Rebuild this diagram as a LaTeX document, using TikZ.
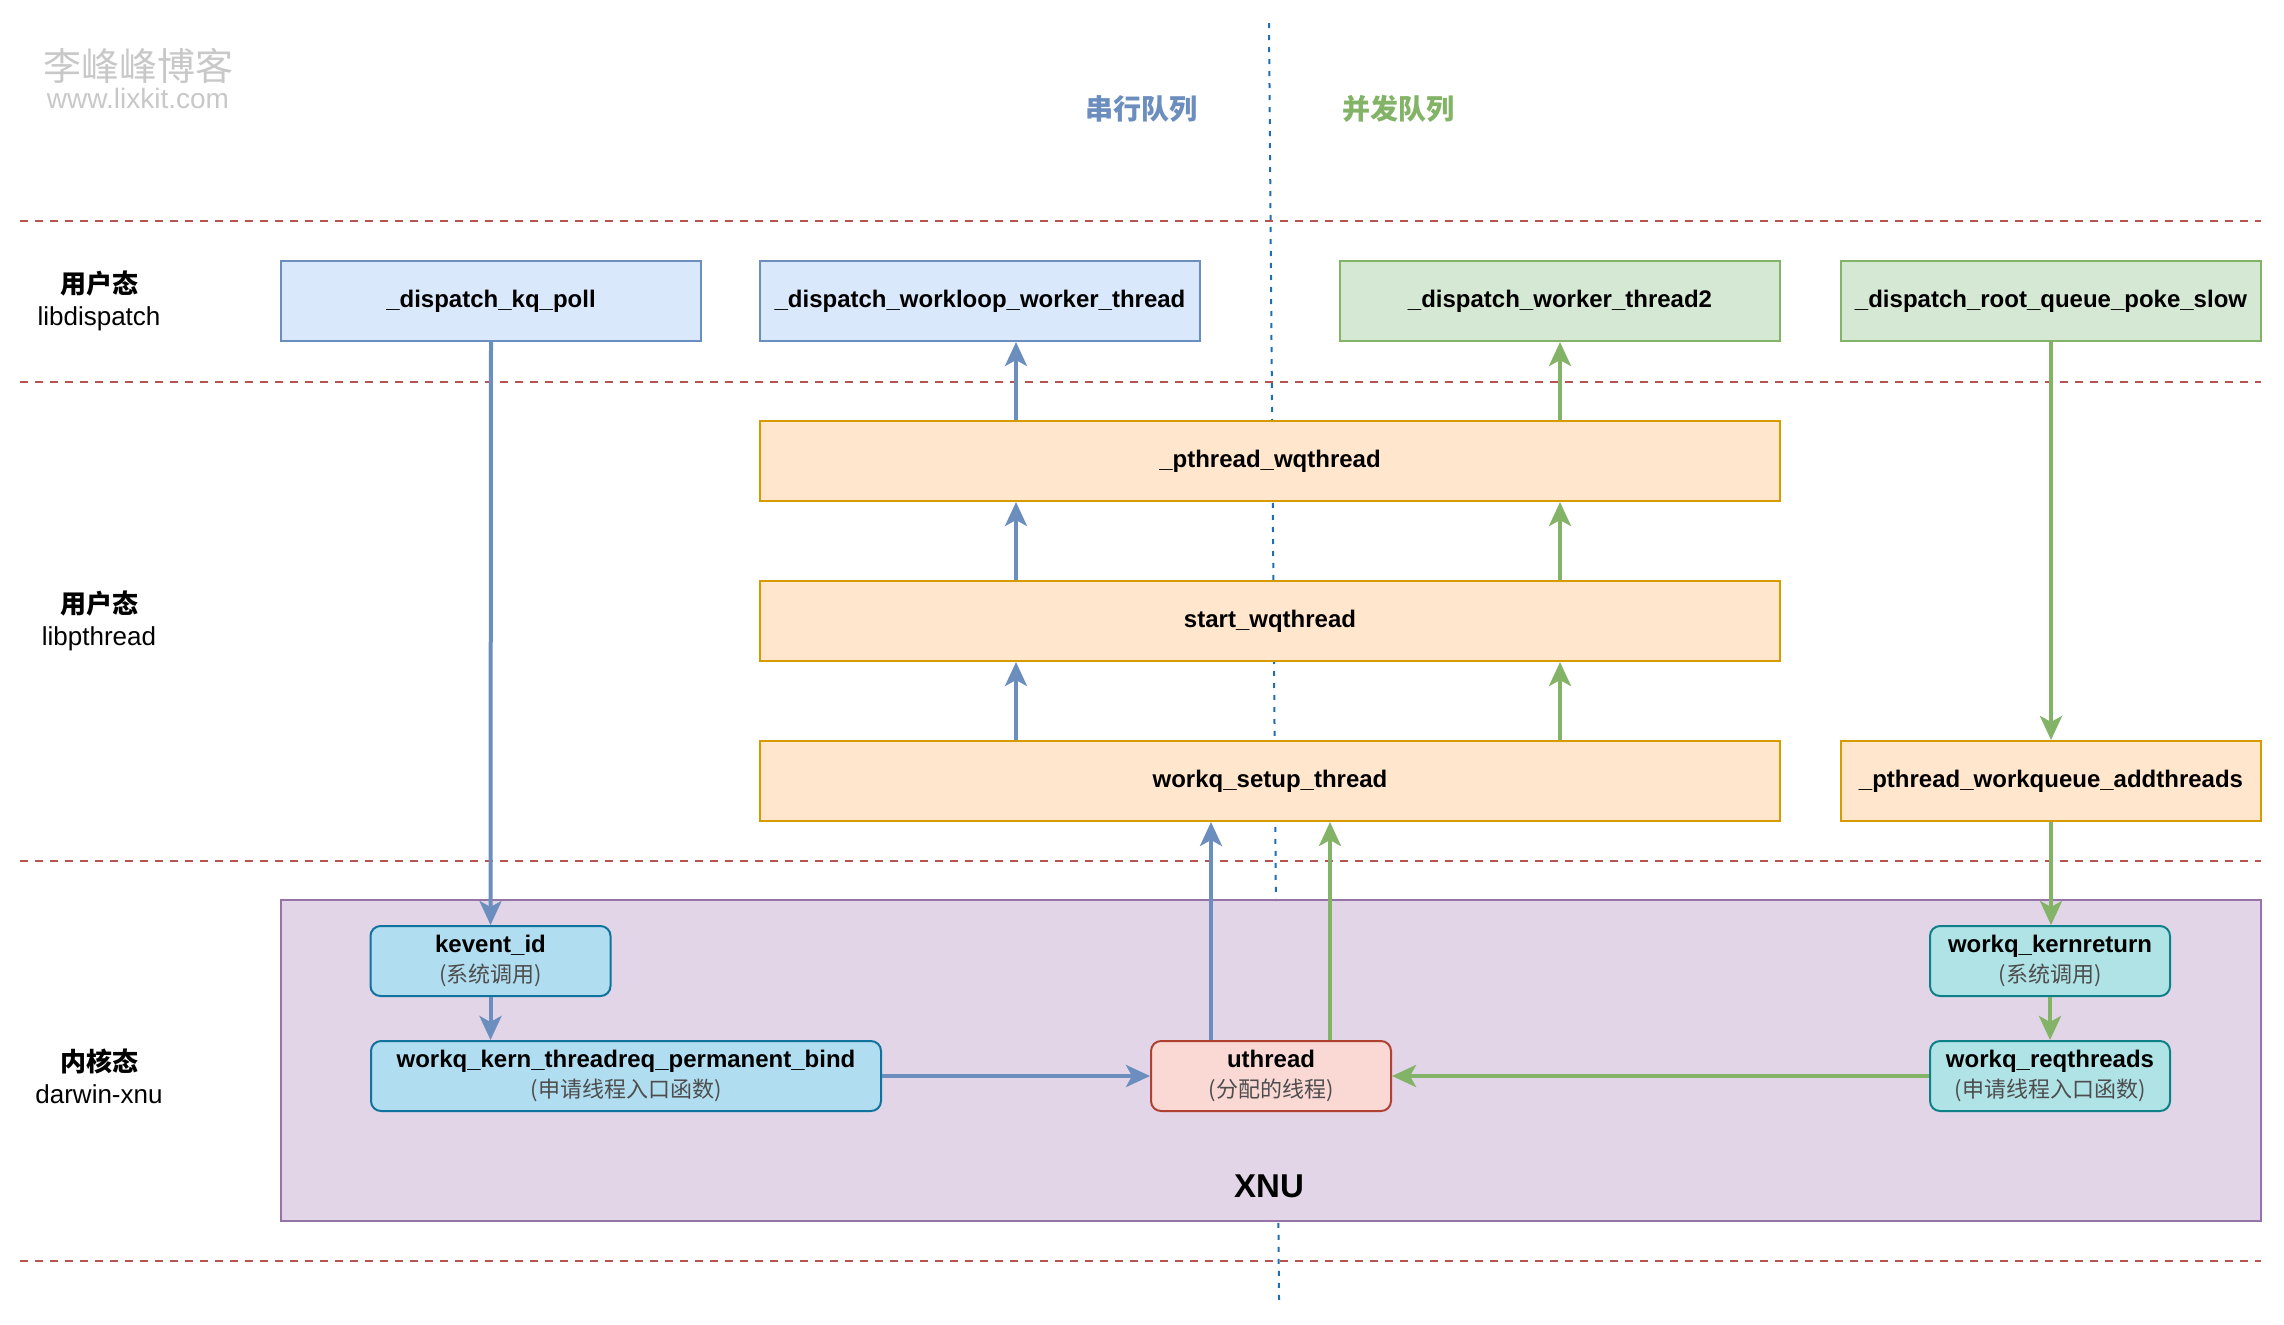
\documentclass[tikz,border=0pt]{standalone}
\usepackage{fontspec}
\setmainfont{Liberation Sans}
\newfontfamily\cjk{Noto Sans CJK SC}
\usetikzlibrary{arrows.meta}

\definecolor{serialfill}{HTML}{DAE8FC}
\definecolor{serialline}{HTML}{6C8EBF}
\definecolor{concfill}{HTML}{D5E8D4}
\definecolor{concline}{HTML}{82B366}
\definecolor{pthfill}{HTML}{FFE6CC}
\definecolor{pthline}{HTML}{D79B00}
\definecolor{xnufill}{HTML}{E1D5E7}
\definecolor{xnuline}{HTML}{9673A6}
\definecolor{sysfill}{HTML}{B1DDF0}
\definecolor{sysline}{HTML}{10739E}
\definecolor{tealfill}{HTML}{B0E3E6}
\definecolor{tealline}{HTML}{0E8088}
\definecolor{thrfill}{HTML}{FAD9D5}
\definecolor{thrline}{HTML}{AE4132}
\definecolor{laneline}{HTML}{B85450}
\definecolor{splitline}{HTML}{1F6FB0}
\definecolor{subtext}{HTML}{4D4D4D}
\definecolor{mark}{HTML}{C8C8C8}

\newcommand{\fn}[1]{\textbf{#1}}
\newcommand{\sub}[1]{{\cjk\fontsize{11}{15}\selectfont\color{subtext}#1}}

\begin{document}
\begin{tikzpicture}[x=0.5pt,y=-0.5pt,
  box/.style={draw, line width=1pt, inner sep=0pt, align=center,
    font=\fontsize{12}{15}\selectfont\bfseries},
  serialbox/.style={box, fill=serialfill, draw=serialline,
    minimum height=40pt},
  concbox/.style={box, fill=concfill, draw=concline, minimum height=40pt},
  pthbox/.style={box, fill=pthfill, draw=pthline, minimum height=40pt},
  kbox/.style={box, rounded corners=5pt, minimum height=35pt,
    minimum width=120pt, font=\fontsize{12}{15}\selectfont},
  sysbox/.style={kbox, fill=sysfill, draw=sysline},
  tealbox/.style={kbox, fill=tealfill, draw=tealline},
  thrbox/.style={kbox, fill=thrfill, draw=thrline},
  lane/.style={draw=laneline, line width=1pt, dash pattern=on 4pt off 3.5pt},
  lanelabel/.style={align=center, font=\fontsize{13}{16}\selectfont},
  flow/.style={line width=2pt,
    -{Stealth[length=12pt, width=11pt, inset=3pt]}},
  bflow/.style={flow, draw=serialline, fill=serialline},
  gflow/.style={flow, draw=concline, fill=concline},
]
\useasboundingbox (0,0) rectangle (2284,1324);

% watermark
\node[text=mark, font=\cjk\fontsize{19}{21}\selectfont] (wm1) at (138,66) {李峰峰博客};
\node[text=mark, font=\fontsize{14}{16}\selectfont] (wm2) at (138,98) {www.lixkit.com};

% split between serial and concurrent queues
\draw[draw=splitline, line width=1pt, dash pattern=on 2.5pt off 3.5pt]
  (1269,23) -- (1279,1300);

% layer separators
\foreach \y in {221,382,861,1261}
  \draw[lane] (20,\y) -- (2261,\y);

% column headings
\node[text=serialline, font=\cjk\bfseries\fontsize{14}{16}\selectfont] (hser) at (1141,109) {串行队列};
\node[text=concline, font=\cjk\bfseries\fontsize{14}{16}\selectfont] (hcon) at (1398,109) {并发队列};

% layer labels
\node[lanelabel] (l1) at (99,301) {{\cjk\bfseries 用户态}\\libdispatch};
\node[lanelabel] (l2) at (99,621) {{\cjk\bfseries 用户态}\\libpthread};
\node[lanelabel] (l3) at (99,1076) {{\cjk\bfseries 内核态}\\darwin-xnu};

% libdispatch
\node[serialbox, minimum width=210pt] (kq) at (491,301) {\_dispatch\_kq\_poll};
\node[serialbox, minimum width=220pt] (wl) at (980,301) {\_dispatch\_workloop\_worker\_thread};
\node[concbox, minimum width=220pt] (wt2) at (1560,301) {\_dispatch\_worker\_thread2};
\node[concbox, minimum width=210pt] (poke) at (2051,301) {\_dispatch\_root\_queue\_poke\_slow};

% libpthread
\node[pthbox, minimum width=510pt] (pwq) at (1270,461) {\_pthread\_wqthread};
\node[pthbox, minimum width=510pt] (start) at (1270,621) {start\_wqthread};
\node[pthbox, minimum width=510pt] (setup) at (1270,781) {workq\_setup\_thread};
\node[pthbox, minimum width=210pt] (add) at (2051,781) {\_pthread\_workqueue\_addthreads};

% kernel
\node[draw=xnuline, fill=xnufill, line width=1pt, minimum width=990pt,
  minimum height=160.5pt, inner sep=0pt] (xnu) at (1271,1060.5) {};
\node[font=\fontsize{16.5}{18}\selectfont\bfseries] (xnulabel) at (1269,1186) {XNU};

\node[sysbox] (kev) at (490.5,961) {\fn{kevent\_id}\\\sub{(系统调用)}};
\node[sysbox, minimum width=255pt] (bind) at (626,1076)
  {\fn{workq\_kern\_threadreq\_permanent\_bind}\\\sub{(申请线程入口函数)}};
\node[thrbox] (uth) at (1271,1076) {\fn{uthread}\\\sub{(分配的线程)}};
\node[tealbox] (kr) at (2050,961) {\fn{workq\_kernreturn}\\\sub{(系统调用)}};
\node[tealbox] (rq) at (2050,1076) {\fn{workq\_reqthreads}\\\sub{(申请线程入口函数)}};

% serial path
\draw[bflow] (kq.south) -- (kev.north);
\draw[bflow] (kev.south) -- (kev.south |- bind.north);
\draw[bflow] (bind.east) -- (uth.west);
\draw[bflow] ([xshift=-30pt]uth.north) -- ([xshift=-30pt]uth.north |- setup.south);
\draw[bflow] ([xshift=-127pt]setup.north) -- ([xshift=-127pt]start.south);
\draw[bflow] ([xshift=-127pt]start.north) -- ([xshift=-127pt]pwq.south);
\draw[bflow] ([xshift=-127pt]pwq.north) -- ([xshift=-127pt]pwq.north |- wl.south);

% concurrent path
\draw[gflow] (poke.south) -- (add.north);
\draw[gflow] (add.south) -- (add.south |- kr.north);
\draw[gflow] (kr.south) -- (rq.north);
\draw[gflow] (rq.west) -- (uth.east);
\draw[gflow] ([xshift=29.5pt]uth.north) -- ([xshift=29.5pt]uth.north |- setup.south);
\draw[gflow] ([xshift=145pt]setup.north) -- ([xshift=145pt]start.south);
\draw[gflow] ([xshift=145pt]start.north) -- ([xshift=145pt]pwq.south);
\draw[gflow] ([xshift=145pt]pwq.north) -- (wt2.south);
\end{tikzpicture}
\end{document}
